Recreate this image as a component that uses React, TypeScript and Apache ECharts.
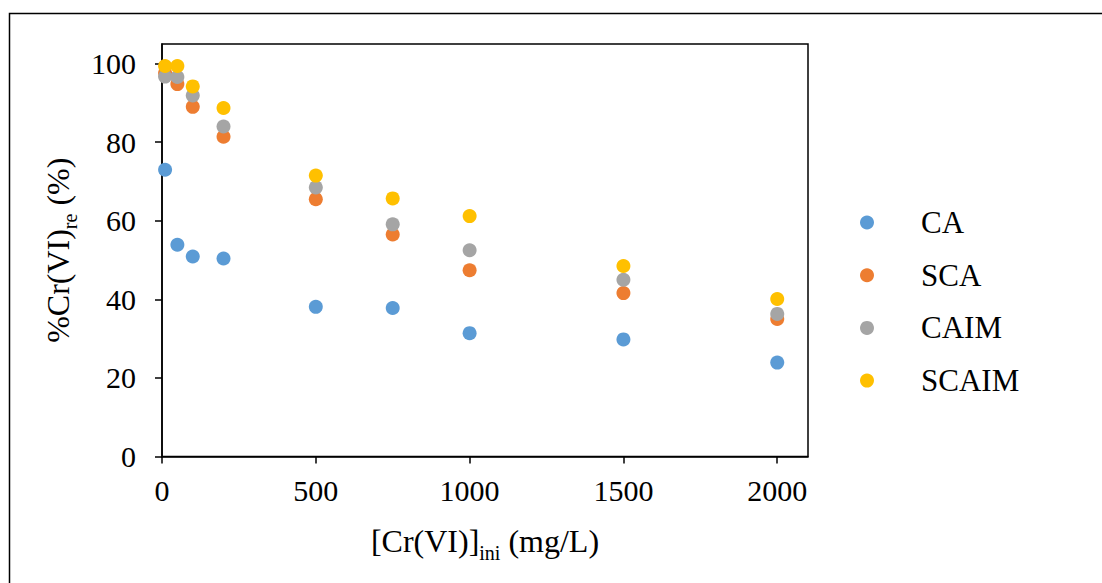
import React, { useEffect, useRef } from "react";
import * as echarts from "echarts";

const xValues = [10, 50, 100, 200, 500, 750, 1000, 1500, 2000];
const seriesNames = ["CA", "SCA", "CAIM", "SCAIM"];
const caValues = [73.0, 53.9, 50.9, 50.4, 38.1, 37.8, 31.4, 29.8, 23.9];
const scaValues = [97.6, 94.8, 89.0, 81.4, 65.5, 56.5, 47.4, 41.6, 35.0];
const caimValues = [96.7, 96.6, 91.9, 84.0, 68.5, 59.1, 52.5, 45.0, 36.3];
const scaimValues = [99.4, 99.4, 94.2, 88.7, 71.5, 65.7, 61.2, 48.5, 40.1];
const seriesColors = ["#5B9BD5", "#ED7D31", "#A5A5A5", "#FFC000"];
const xTicks = [0, 500, 1000, 1500, 2000];
const yTicks = [0, 20, 40, 60, 80, 100];

const FONT = "'Liberation Serif', 'Times New Roman', serif";

const titleRich = {
  a: { fontFamily: FONT, fontSize: 32, color: "#000", verticalAlign: "bottom", lineHeight: 34, padding: [0, 0, 6, 0] },
  s: { fontFamily: FONT, fontSize: 20, color: "#000", verticalAlign: "bottom", lineHeight: 20 },
};

export default function App() {
  const ref = useRef<HTMLDivElement>(null);
  useEffect(() => {
    if (!ref.current) return;
    const chart = echarts.init(ref.current, undefined, { renderer: "svg" });
    const allValues = [caValues, scaValues, caimValues, scaimValues];
    chart.setOption({
      animation: false,
      backgroundColor: "#ffffff",
      textStyle: { fontFamily: FONT, color: "#000" },
      graphic: [
        {
          type: "rect",
          shape: { x: 9.5, y: 13.5, width: 1300, height: 800 },
          style: { fill: "none", stroke: "#000", lineWidth: 1.5 },
          silent: true,
          z: -1,
        },
      ],
      grid: {
        left: 162,
        top: 44,
        width: 646,
        height: 412.5,
        show: true,
        borderColor: "#000",
        borderWidth: 1.5,
        containLabel: false,
      },
      legend: {
        orient: "vertical",
        left: 855,
        top: 202,
        itemWidth: 14,
        itemHeight: 14,
        itemGap: 21.7,
        icon: "circle",
        data: seriesNames,
        textStyle: {
          fontFamily: FONT,
          fontSize: 31,
          color: "#000",
          padding: [0, 0, 0, 42],
        },
      },
      xAxis: {
        type: "value",
        min: 0,
        max: 2100,
        splitLine: { show: false },
        axisLine: { lineStyle: { color: "#000", width: 1.5 } },
        axisTick: {
          inside: false,
          length: 7,
          lineStyle: { color: "#000", width: 1.5 },
          customValues: xTicks,
        },
        axisLabel: {
          fontFamily: FONT,
          fontSize: 30,
          color: "#000",
          margin: 19,
          customValues: xTicks,
          formatter: (v: number) => String(v),
        },
        name: "{a|[Cr(VI)]}{s|ini}{a| (mg/L)}",
        nameLocation: "middle",
        nameGap: 72,
        nameTextStyle: { fontFamily: FONT, color: "#000", rich: titleRich },
      },
      yAxis: {
        type: "value",
        min: 0,
        max: 105,
        splitLine: { show: false },
        axisLine: { lineStyle: { color: "#000", width: 1.5 } },
        axisTick: {
          inside: false,
          length: 7,
          lineStyle: { color: "#000", width: 1.5 },
          customValues: yTicks,
        },
        axisLabel: {
          fontFamily: FONT,
          fontSize: 30,
          color: "#000",
          margin: 26,
          customValues: yTicks,
          formatter: (v: number) => String(v),
        },
        name: "{a|%Cr(VI)}{s|re}{a| (%)}",
        nameLocation: "middle",
        nameGap: 73,
        nameRotate: 90,
        nameTextStyle: { fontFamily: FONT, color: "#000", rich: titleRich },
      },
      series: seriesNames.map((name, i) => ({
        name,
        type: "scatter",
        symbol: "circle",
        symbolSize: 14,
        itemStyle: { color: seriesColors[i], opacity: 1 },
        data: xValues.map((x, j) => [x, allValues[i][j]]),
        z: 2 + i,
      })),
    });
    return () => chart.dispose();
  }, []);
  return (
    <div
      ref={ref}
      style={{ position: "fixed", left: 0, top: 0, width: 1102, height: 583, background: "#fff" }}
    />
  );
}
